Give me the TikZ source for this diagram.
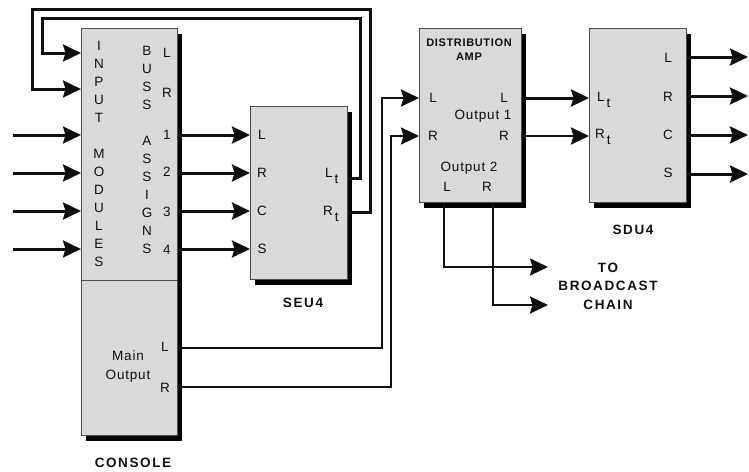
\documentclass[tikz,border=0pt]{standalone}
\usepackage{fontspec}
\setmainfont{Liberation Sans}
\newfontfamily\lblfont[LetterSpace=6]{Liberation Sans}
\newfontfamily\titlefont[LetterSpace=12]{Liberation Sans}
\newfontfamily\dafont[LetterSpace=6]{Liberation Sans}
\usetikzlibrary{arrows.meta,shadows}
\definecolor{boxgray}{RGB}{217,217,217}
\definecolor{inkc}{RGB}{15,15,15}
\begin{document}
\begin{tikzpicture}[x=1pt,y=-1pt,
  unit/.style={draw=black!70, line width=0.8pt, fill=boxgray, rectangle, inner sep=0pt, anchor=north west,
    general shadow={fill=black, shadow xshift=5pt, shadow yshift=-6pt}},
  wire/.style={line width=3pt, draw=inkc},
  thinwire/.style={line width=2.2pt, draw=inkc},
  arr/.style={-{Stealth[length=18pt,width=17pt,inset=2.5pt]}},
  lbl/.style={font=\lblfont\fontsize{13.5}{18}\selectfont, text=inkc, inner sep=0pt},
  ttl/.style={font=\titlefont\bfseries\fontsize{13.5}{18.5}\selectfont, text=inkc, inner sep=0pt, align=center},
]
\useasboundingbox (0,0) rectangle (749,471);

% boxes
\node[unit, minimum width=96pt, minimum height=407pt] (console) at (81,28) {};
\node[unit, minimum width=97pt, minimum height=173pt] (seu) at (250,106) {};
\node[unit, minimum width=102pt, minimum height=174pt] (dist) at (419,28) {};
\node[unit, minimum width=97pt, minimum height=174pt] (sdu) at (589,28) {};

\coordinate (div) at (0,280);
\draw[line width=0.8pt, black!70] (console.west |- div) -- (console.east |- div);

% row coordinates
\coordinate (in1) at (13,135);
\coordinate (in2) at (13,173);
\coordinate (in3) at (13,211);
\coordinate (in4) at (13,249);
\coordinate (fbL) at (0,53);
\coordinate (fbR) at (0,89);
\coordinate (lt) at (0,178);
\coordinate (rt) at (0,212);
\coordinate (mL) at (0,348);
\coordinate (mR) at (0,387);
\coordinate (daL) at (0,98);
\coordinate (daR) at (0,136);
\coordinate (oL) at (748,57);
\coordinate (oR) at (748,96);
\coordinate (oC) at (748,135);
\coordinate (oS) at (748,174);
\coordinate (bcL) at (548,267);
\coordinate (bcR) at (548,305);

% inputs and bus assigns
\foreach \i in {1,...,4} {
  \draw[wire,arr] (in\i) -- (in\i -| console.west);
  \draw[wire,arr] (in\i -| console.east) -- (in\i -| seu.west);
}

% feedback loops
\draw[wire,arr] (lt -| seu.east) -- (360,178) -- (360,18) -- (42,18) -- (42,53) -- (fbL -| console.west);
\draw[wire,arr] (rt -| seu.east) -- (370,212) -- (370,9) -- (32,9) -- (32,89) -- (fbR -| console.west);

% main output to distribution amp
\draw[thinwire,arr] (mL -| console.east) -- (382,348) -- (382,98) -- (daL -| dist.west);
\draw[thinwire,arr] (mR -| console.east) -- (391,387) -- (391,136) -- (daR -| dist.west);

% distribution amp to SDU4
\draw[wire,arr] (daL -| dist.east) -- (daL -| sdu.west);
\draw[thinwire,arr] (daR -| dist.east) -- (daR -| sdu.west);

% SDU4 outputs
\foreach \o in {oL,oR,oC,oS} \draw[wire,arr] (\o -| sdu.east) -- (\o);

% output 2 to broadcast chain
\draw[thinwire,arr] ([xshift=25pt]dist.south west) |- (bcL);
\draw[thinwire,arr] ([xshift=74pt]dist.south west) |- (bcR);

% console texts
\node[lbl, align=center] (inmod) at (99,154) {I\\N\\P\\U\\T\\[18pt]M\\O\\D\\U\\L\\E\\S};
\node[lbl, align=center] (bussas) at (147,150) {B\\U\\S\\S\\[18pt]A\\S\\S\\I\\G\\N\\S};
\node[lbl] (cL) at (167,53) {L};
\node[lbl] (cR) at (167,93) {R};
\node[lbl] (c1) at (167,135) {1};
\node[lbl] (c2) at (167,172) {2};
\node[lbl] (c3) at (167,212) {3};
\node[lbl] (c4) at (167,250) {4};
\node[lbl, align=center, font=\lblfont\fontsize{13.5}{19}\selectfont] (mainout) at (128,367) {Main\\Output};
\node[lbl] (mLl) at (165,347) {L};
\node[lbl] (mRl) at (165,388) {R};
\node[ttl] (consolet) at (133,463) {CONSOLE};

% SEU4 texts
\node[lbl] (sL) at (262,135) {L};
\node[lbl] (sR) at (262,173) {R};
\node[lbl] (sC) at (262,211) {C};
\node[lbl] (sS) at (262,249) {S};
\node[lbl, anchor=base west] (sLt) at (325,177) {L\kern2pt\raisebox{-6pt}{t}};
\node[lbl, anchor=base west] (sRt) at (323,215) {R\kern2pt\raisebox{-6pt}{t}};
\node[ttl] (seut) at (303,303) {SEU4};

% distribution amp texts
\node[inner sep=0pt, align=center, text=inkc, font=\dafont\bfseries\fontsize{11}{14}\selectfont] (dat) at (469,50) {DISTRIBUTION\\AMP};
\node[lbl] (dLi) at (433,98) {L};
\node[lbl] (dRi) at (433,136) {R};
\node[lbl] (dLo) at (504,98) {L};
\node[lbl] (dRo) at (504,136) {R};
\node[lbl] (out1) at (483,116) {Output 1};
\node[lbl] (out2) at (469,168) {Output 2};
\node[lbl] (o2L) at (447,187) {L};
\node[lbl] (o2R) at (487,187) {R};

% SDU4 texts
\node[lbl, anchor=base west] (dLt) at (597,101) {L\kern2pt\raisebox{-6pt}{t}};
\node[lbl, anchor=base west] (dRt) at (595,138) {R\kern2pt\raisebox{-6pt}{t}};
\node[lbl] (uL) at (668,58) {L};
\node[lbl] (uR) at (668,97) {R};
\node[lbl] (uC) at (668,135) {C};
\node[lbl] (uS) at (668,173) {S};
\node[ttl] (sdut) at (633,230) {SDU4};

% broadcast chain
\node[ttl] (bcast) at (608,286) {TO\\BROADCAST\\CHAIN};
\end{tikzpicture}
\end{document}
